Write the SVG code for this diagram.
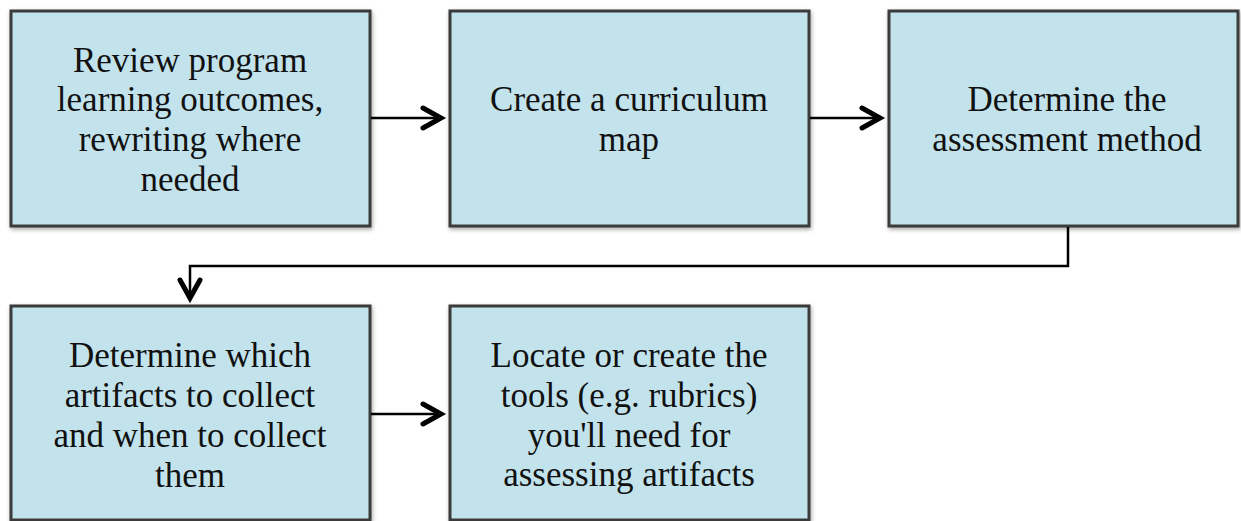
<svg xmlns="http://www.w3.org/2000/svg" width="1241" height="521" viewBox="0 0 1241 521">
  <defs>
    <filter id="shadow" x="-5%" y="-5%" width="115%" height="115%">
      <feDropShadow dx="1" dy="2" stdDeviation="2" flood-color="#000" flood-opacity="0.35"/>
    </filter>
  </defs>
  <rect width="1241" height="521" fill="#fff"/>

  <g id="node1">
    <rect x="11" y="11" width="359" height="215" fill="#c3e3ec" stroke="#3a3a3a" stroke-width="3" filter="url(#shadow)"/>
    <text x="190" y="72" font-family="Liberation Serif" font-size="35" text-anchor="middle" fill="#111">Review program</text>
    <text x="190" y="111" font-family="Liberation Serif" font-size="35" text-anchor="middle" fill="#111">learning outcomes,</text>
    <text x="190" y="151" font-family="Liberation Serif" font-size="35" text-anchor="middle" fill="#111">rewriting where</text>
    <text x="190" y="191" font-family="Liberation Serif" font-size="35" text-anchor="middle" fill="#111">needed</text>
  </g>
  <g id="node2">
    <rect x="450" y="11" width="359" height="215" fill="#c3e3ec" stroke="#3a3a3a" stroke-width="3" filter="url(#shadow)"/>
    <text x="629" y="111" font-family="Liberation Serif" font-size="35" text-anchor="middle" fill="#111">Create a curriculum</text>
    <text x="629" y="151" font-family="Liberation Serif" font-size="35" text-anchor="middle" fill="#111">map</text>
  </g>
  <g id="node3">
    <rect x="889" y="11" width="349" height="215" fill="#c3e3ec" stroke="#3a3a3a" stroke-width="3" filter="url(#shadow)"/>
    <text x="1067" y="111" font-family="Liberation Serif" font-size="35" text-anchor="middle" fill="#111">Determine the</text>
    <text x="1067" y="151" font-family="Liberation Serif" font-size="35" text-anchor="middle" fill="#111">assessment method</text>
  </g>
  <g id="node4">
    <rect x="11" y="306" width="359" height="214" fill="#c3e3ec" stroke="#3a3a3a" stroke-width="3" filter="url(#shadow)"/>
    <text x="190" y="367" font-family="Liberation Serif" font-size="35" text-anchor="middle" fill="#111">Determine which</text>
    <text x="190" y="407" font-family="Liberation Serif" font-size="35" text-anchor="middle" fill="#111">artifacts to collect</text>
    <text x="190" y="447" font-family="Liberation Serif" font-size="35" text-anchor="middle" fill="#111">and when to collect</text>
    <text x="190" y="487" font-family="Liberation Serif" font-size="35" text-anchor="middle" fill="#111">them</text>
  </g>
  <g id="node5">
    <rect x="450" y="306" width="359" height="214" fill="#c3e3ec" stroke="#3a3a3a" stroke-width="3" filter="url(#shadow)"/>
    <text x="629" y="367" font-family="Liberation Serif" font-size="35" text-anchor="middle" fill="#111">Locate or create the</text>
    <text x="629" y="407" font-family="Liberation Serif" font-size="35" text-anchor="middle" fill="#111">tools (e.g. rubrics)</text>
    <text x="629" y="447" font-family="Liberation Serif" font-size="35" text-anchor="middle" fill="#111">you'll need for</text>
    <text x="629" y="486" font-family="Liberation Serif" font-size="35" text-anchor="middle" fill="#111">assessing artifacts</text>
  </g>

  <g id="connectors" fill="none" stroke="#000">
    <line x1="371" y1="118" x2="440" y2="118" stroke-width="2.5"/>
    <path d="M423,108 L441,118 L423,128" stroke-width="5" stroke-linecap="round"/>
    <line x1="810" y1="118" x2="879" y2="118" stroke-width="2.5"/>
    <path d="M862,108 L880,118 L862,128" stroke-width="5" stroke-linecap="round"/>
    <polyline points="1068,227 1068,266 190,266 190,297" stroke-width="2.5"/>
    <path d="M180,280 L190,298 L200,280" stroke-width="5" stroke-linecap="round"/>
    <line x1="371" y1="414" x2="440" y2="414" stroke-width="2.5"/>
    <path d="M423,404 L441,414 L423,424" stroke-width="5" stroke-linecap="round"/>
  </g>
</svg>
